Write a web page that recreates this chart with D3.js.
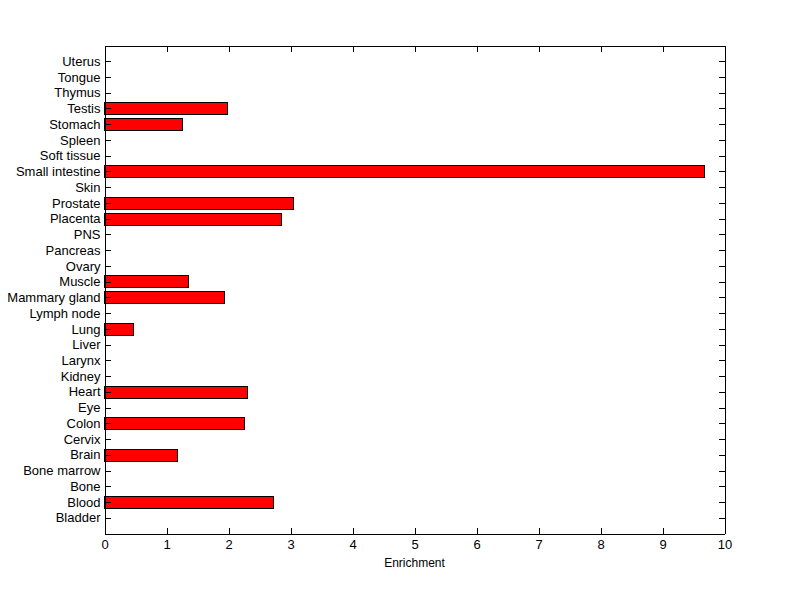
<!DOCTYPE html>
<html><head><meta charset="utf-8">
<script src="https://cdn.jsdelivr.net/npm/d3@7"></script>
<style>body{margin:0;background:#fff;} text{font-family:"Liberation Sans",Arial,sans-serif;}</style>
</head><body>
<svg id="c" width="800" height="599"></svg>
<script>
const categories = ["Bladder","Blood","Bone","Bone marrow","Brain","Cervix","Colon","Eye","Heart","Kidney","Larynx","Liver","Lung","Lymph node","Mammary gland","Muscle","Ovary","Pancreas","PNS","Placenta","Prostate","Skin","Small intestine","Soft tissue","Spleen","Stomach","Testis","Thymus","Tongue","Uterus"];
const values = [0,2.73,0,0,1.17,0,2.26,0,2.31,0,0,0,0.47,0,1.94,1.36,0,0,0,2.86,3.05,0,9.68,0,0,1.26,1.99,0,0,0];
const xTicks = [0,1,2,3,4,5,6,7,8,9,10];
const xLabel = "Enrichment";

const L=104.5, R=724.5, T=45.5, B=533.5;
const svg = d3.select("#c");
const x = d3.scaleLinear().domain([0,10]).range([L,R]);
const y = d3.scaleLinear().domain([0,categories.length+1]).range([B,T]);
const step = (B-T)/(categories.length+1);
const bh = step*0.78;

const data = categories.map((c,i)=>({c, v:values[i], p:i+1}));
svg.append("g").selectAll("rect").data(data.filter(d=>d.v>0)).join("rect")
  .attr("x", x(0)).attr("y", d=>Math.round(y(d.p)-bh/2)+0.5)
  .attr("width", d=>x(d.v)-x(0)).attr("height", Math.round(bh))
  .attr("fill","#ff0000").attr("stroke","#000").attr("stroke-width",1)
  .attr("shape-rendering","crispEdges");

const tk = 6;
const fs = "13px";
const gb = svg.append("g").attr("transform",`translate(0,${B})`)
  .call(d3.axisBottom(x).tickValues(xTicks).tickFormat(d3.format("d")).tickSizeInner(-tk).tickSizeOuter(0));
const gt = svg.append("g").attr("transform",`translate(0,${T})`)
  .call(d3.axisTop(x).tickValues(xTicks).tickFormat("").tickSizeInner(-tk).tickSizeOuter(0));
const gl = svg.append("g").attr("transform",`translate(${L},0)`)
  .call(d3.axisLeft(y).tickValues(data.map(d=>d.p)).tickFormat(d=>categories[d-1]).tickSizeInner(-tk).tickSizeOuter(0));
const gr = svg.append("g").attr("transform",`translate(${R},0)`)
  .call(d3.axisRight(y).tickValues(data.map(d=>d.p)).tickFormat("").tickSizeInner(-tk).tickSizeOuter(0));
[gb,gt,gl,gr].forEach(g=>{
  g.selectAll("path.domain").attr("stroke","#000").attr("stroke-width",1).attr("shape-rendering","crispEdges");
  g.selectAll("line").attr("stroke","#000").attr("shape-rendering","crispEdges");
  g.selectAll("text").attr("fill","#000").style("font-size",fs).style("font-family",'"Liberation Sans",Arial,sans-serif');
});
gl.selectAll(".tick text").attr("x",-4);
gb.selectAll(".tick text").attr("y",6);

svg.append("text").attr("x",(L+R)/2).attr("y",567).attr("text-anchor","middle")
  .style("font-size","12px").attr("fill","#000").text(xLabel);
</script>
</body></html>
